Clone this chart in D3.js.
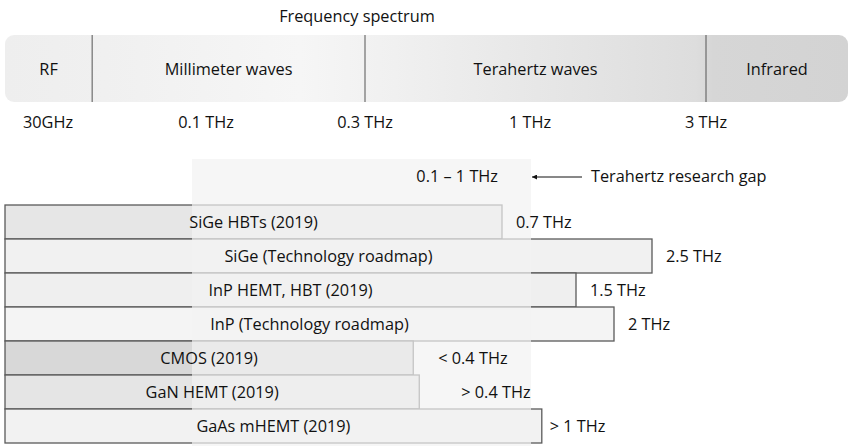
<!DOCTYPE html>
<html>
<head>
<meta charset="utf-8">
<script src="https://cdn.jsdelivr.net/npm/d3@7"></script>
<style>
body { margin: 0; background: #fff; }
text { font-family: "Open Sans", "Noto Sans", sans-serif; font-size: 16.3px; fill: #111; }
</style>
</head>
<body>
<div id="chart"></div>
<script>
// spectrum band on top
var bandNames = ["RF", "Millimeter waves", "Terahertz waves", "Infrared"];
var bandBreaks = [0.042, 0.3, 3];          // THz, where one band turns into the next
var tickValues = [0.03, 0.1, 0.3, 1, 3];
var tickLabels = ["30GHz", "0.1 THz", "0.3 THz", "1 THz", "3 THz"];

// technologies and their max frequency (THz)
var techNames = ["SiGe HBTs (2019)", "SiGe (Technology roadmap)", "InP HEMT, HBT (2019)",
                 "InP (Technology roadmap)", "CMOS (2019)", "GaN HEMT (2019)", "GaAs mHEMT (2019)"];
var maxFreq = [0.7, 2.5, 1.5, 2, 0.395, 0.408, 1.12];
var freqLabels = ["0.7 THz", "2.5 THz", "1.5 THz", "2 THz", "< 0.4 THz", "> 0.4 THz", "> 1 THz"];
var gapRange = [0.1, 1];

var width = 850, height = 446;
var svg = d3.select("#chart").append("svg")
            .attr("width", width)
            .attr("height", height);

// ---- frequency spectrum ----
var specX = d3.scaleLog()
              .domain(tickValues)
              .range([48, 206, 365, 530, 706]);
var bandLeft = 5, bandRight = 848, bandTop = 35, bandBottom = 102;

var defs = svg.append("defs");
var grad = defs.append("linearGradient").attr("id", "bandGrad")
               .attr("x1", "0").attr("x2", "1").attr("y1", "0").attr("y2", "0");
[[0, "#eeeeee"], [0.12, "#f0f0f0"], [0.35, "#f6f6f6"], [0.5, "#eeeeee"],
 [0.82, "#dddddd"], [0.84, "#d6d6d6"], [1, "#d3d3d3"]].forEach(function(s) {
  grad.append("stop").attr("offset", s[0]).attr("stop-color", s[1]);
});

svg.append("text")
   .attr("x", 357).attr("y", 22)
   .attr("text-anchor", "middle")
   .text("Frequency spectrum");

svg.append("rect")
   .attr("x", bandLeft).attr("y", bandTop)
   .attr("width", bandRight - bandLeft).attr("height", bandBottom - bandTop)
   .attr("rx", 9)
   .attr("fill", "url(#bandGrad)");

var edges = [bandLeft].concat(bandBreaks.map(specX)).concat([bandRight]);

svg.selectAll(".divider")
   .data(bandBreaks)
   .enter().append("line")
   .attr("class", "divider")
   .attr("x1", function(d) { return specX(d); })
   .attr("x2", function(d) { return specX(d); })
   .attr("y1", bandTop).attr("y2", bandBottom)
   .attr("stroke", "#555").attr("stroke-width", 1);

svg.selectAll(".bandLabel")
   .data(bandNames)
   .enter().append("text")
   .attr("class", "bandLabel")
   .attr("x", function(d, i) { return (edges[i] + edges[i + 1]) / 2; })
   .attr("y", 75)
   .attr("text-anchor", "middle")
   .text(function(d) { return d; });

svg.selectAll(".tick")
   .data(tickValues)
   .enter().append("text")
   .attr("class", "tick")
   .attr("x", function(d) { return specX(d); })
   .attr("y", 128)
   .attr("text-anchor", "middle")
   .text(function(d, i) { return tickLabels[i]; });

// ---- technology bars ----
var barX = d3.scaleLinear()
             .domain([0, 0.1, 0.4, 0.7, 1, 1.5, 2.5])
             .range([5, 192, 417, 502, 531, 576, 652]);
var y = d3.scaleBand()
          .domain(techNames)
          .range([205, 443]);
var fill = d3.scaleOrdinal()
             .domain(techNames)
             .range(["#e6e6e6", "#f1f1f1", "#efefef", "#f4f4f4", "#d8d8d8", "#e5e5e5", "#f2f2f2"]);

var rows = techNames.map(function(name, i) {
  return { name: name, value: maxFreq[i], label: freqLabels[i] };
});

svg.selectAll(".bar")
   .data(rows)
   .enter().append("rect")
   .attr("class", "bar")
   .attr("x", barX(0))
   .attr("y", function(d) { return y(d.name); })
   .attr("width", function(d) { return barX(d.value) - barX(0); })
   .attr("height", y.bandwidth())
   .attr("fill", function(d) { return fill(d.name); })
   .attr("stroke", "#5a5a5a")
   .attr("stroke-width", 1.3);

// terahertz gap overlay
svg.append("rect")
   .attr("x", barX(gapRange[0]))
   .attr("y", 159)
   .attr("width", barX(gapRange[1]) - barX(gapRange[0]))
   .attr("height", height - 159)
   .attr("fill", "#f2f2f2")
   .attr("opacity", 0.7);

svg.selectAll(".barName")
   .data(rows)
   .enter().append("text")
   .attr("class", "barName")
   .attr("x", function(d) { return (barX(0) + barX(d.value)) / 2; })
   .attr("y", function(d) { return y(d.name) + y.bandwidth() / 2 + 6; })
   .attr("text-anchor", "middle")
   .text(function(d) { return d.name; });

// labels after the bar ends, a few are pushed a bit further out
var nudge = { "< 0.4 THz": 25, "> 0.4 THz": 42, "> 1 THz": 8 };
svg.selectAll(".barValue")
   .data(rows)
   .enter().append("text")
   .attr("class", "barValue")
   .attr("x", function(d) { return barX(d.value) + (nudge[d.label] || 14); })
   .attr("y", function(d) { return y(d.name) + y.bandwidth() / 2 + 6; })
   .text(function(d) { return d.label; });

// gap annotation
svg.append("text")
   .attr("x", barX(gapRange[1]) - 33).attr("y", 182)
   .attr("text-anchor", "end")
   .text("0.1 \u2013 1 THz");

defs.append("marker").attr("id", "arrow")
    .attr("viewBox", "0 0 10 10").attr("refX", 10).attr("refY", 5)
    .attr("markerWidth", 5).attr("markerHeight", 5)
    .attr("orient", "auto")
    .append("path").attr("d", "M0,0 L10,5 L0,10 z").attr("fill", "#111");

svg.append("line")
   .attr("x1", barX(gapRange[1]) + 51).attr("x2", barX(gapRange[1]) + 1)
   .attr("y1", 177).attr("y2", 177)
   .attr("stroke", "#111").attr("stroke-width", 1)
   .attr("marker-end", "url(#arrow)");

svg.append("text")
   .attr("x", barX(gapRange[1]) + 60).attr("y", 182)
   .text("Terahertz research gap");
</script>
</body>
</html>
